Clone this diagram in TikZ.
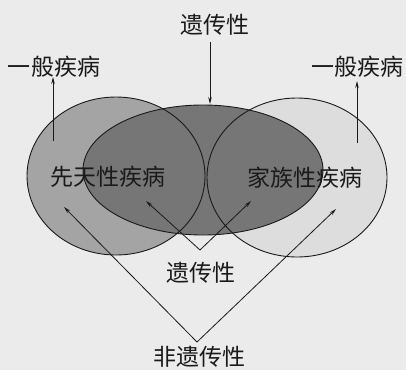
\documentclass[tikz,border=0pt]{standalone}
\usepackage{fontspec}
\setmainfont{Noto Sans CJK SC}
\usetikzlibrary{arrows.meta}
\definecolor{bg}{HTML}{EBEBEB}
\definecolor{leftfill}{HTML}{A4A4A4}
\definecolor{midfill}{HTML}{767676}
\definecolor{rightfill}{HTML}{DDDDDD}
\definecolor{triplefill}{HTML}{6A6A6A}
\definecolor{ink}{HTML}{1A1A1A}
\begin{document}
\begin{tikzpicture}[x=1pt,y=-1pt,
  lbl/.style={font=\fontsize{23}{23}\selectfont, text=ink, inner sep=0pt},
  outline/.style={draw=ink, line width=0.9pt},
  arr/.style={draw=ink, line width=0.8pt, -{Stealth[length=7pt,width=3.5pt]}}]
\useasboundingbox (0,0) rectangle (406,370);
\fill[bg] (0,0) rectangle (406,370);
% ellipses
\fill[leftfill] (116,176) ellipse [x radius=89, y radius=79];
\fill[rightfill] (297,177.5) ellipse [x radius=90, y radius=79.5];
\fill[midfill] (203,170) ellipse [x radius=120, y radius=65];
\begin{scope}
  \clip (116,176) ellipse [x radius=89, y radius=79];
  \clip (297,177.5) ellipse [x radius=90, y radius=79.5];
  \fill[triplefill] (203,170) ellipse [x radius=120, y radius=65];
\end{scope}
\draw[outline] (116,176) ellipse [x radius=89, y radius=79];
\draw[outline] (297,177.5) ellipse [x radius=90, y radius=79.5];
\draw[outline] (203,170) ellipse [x radius=120, y radius=65];
% labels
\node[lbl] (top) at (215,25) {遗传性};
\node[lbl] (gl) at (54,67) {一般疾病};
\node[lbl] (gr) at (357,67) {一般疾病};
\node[lbl] (xt) at (108,177) {先天性疾病};
\node[lbl] (jz) at (305,178) {家族性疾病};
\node[lbl] (yc) at (201,273) {遗传性};
\node[lbl] (fy) at (199,357) {非遗传性};
% coordinates
\coordinate (topS) at (210,42);
\coordinate (topE) at (210,104);
\coordinate (glS) at (53,141);
\coordinate (glE) at (53,77);
\coordinate (grS) at (357,143);
\coordinate (grE) at (357,81);
\coordinate (vs) at (200,250);
\coordinate (vsL) at (146,201);
\coordinate (vsR) at (251,201);
\coordinate (vb) at (197,342);
\coordinate (vbL) at (64,207);
\coordinate (vbR) at (336,209);
% arrows
\draw[arr] (topS) -- (topE);
\draw[arr] (glS) -- (glE);
\draw[arr] (grS) -- (grE);
\draw[arr] (vs) -- (vsL);
\draw[arr] (vs) -- (vsR);
\draw[arr] (vb) -- (vbL);
\draw[arr] (vb) -- (vbR);
\end{tikzpicture}
\end{document}
